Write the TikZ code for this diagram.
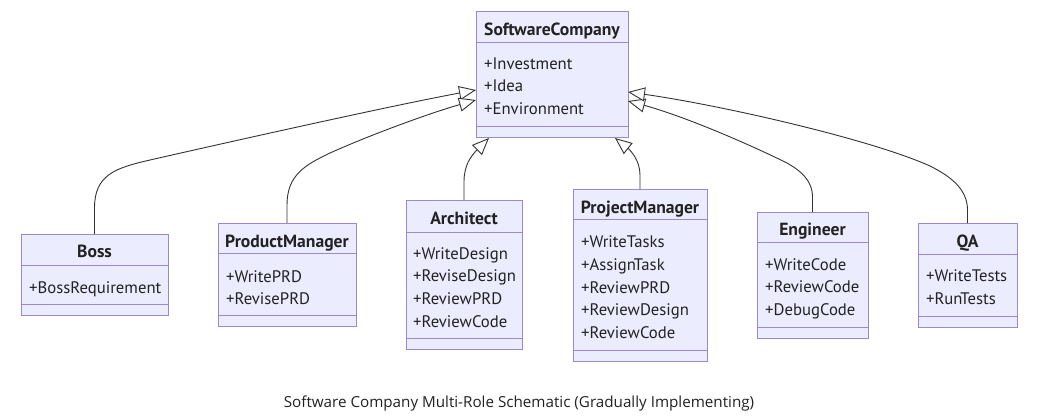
\documentclass[tikz,border=0pt]{standalone}
\usepackage{fontspec}
\setmainfont{PT Sans}
\newfontfamily\capfont{Open Sans}
\usetikzlibrary{arrows.meta}
\definecolor{boxfill}{HTML}{ECECFF}
\definecolor{boxline}{HTML}{9C87D0}
\definecolor{linkcol}{HTML}{333333}
\definecolor{txt}{HTML}{222222}
\begin{document}
\begin{tikzpicture}[x=1pt,y=-1pt,
  cls/.style={draw=boxline,fill=boxfill,line width=1pt,inner sep=0pt,outer sep=0pt,anchor=north west},
  sepline/.style={draw=boxline,line width=1pt},
  ttl/.style={font=\fontsize{17.6}{20}\selectfont\bfseries,text=txt,inner sep=0pt,text height=12pt,text depth=3pt,yshift=-1.5pt},
  attr/.style={font=\fontsize{16.7}{19}\selectfont,text=txt,inner sep=0pt,anchor=west,text height=12pt,text depth=3pt,yshift=-1.5pt},
  inherit/.style={draw=linkcol,line width=0.9pt,-{Triangle[length=17pt,width=14pt,fill=white]}},
]
\useasboundingbox (0,0) rectangle (1044,417);
\fill[white] (0,0) rectangle (1044,417);

% SoftwareCompany
\node[cls,minimum width=152pt,minimum height=126pt] (sc) at (476,12) {};
\draw[sepline] (476,43) -- (628,43);
\draw[sepline] (476,127) -- (628,127);
\node[ttl] (sct) at (552,30) {SoftwareCompany};
\node[attr] (sca1) at (484,64) {+Investment};
\node[attr] (sca2) at (484,86) {+Idea};
\node[attr] (sca3) at (484,109) {+Environment};

% Boss
\node[cls,minimum width=147pt,minimum height=81pt] (boss) at (21,234) {};
\draw[sepline] (21,265) -- (168,265);
\draw[sepline] (21,304) -- (168,304);
\node[ttl] (bosst) at (94.5,251) {Boss};
\node[attr] (bossa1) at (29,287) {+BossRequirement};

% ProductManager
\node[cls,minimum width=138pt,minimum height=103pt] (pm) at (218,223) {};
\draw[sepline] (218,253) -- (356,253);
\draw[sepline] (218,315) -- (356,315);
\node[ttl] (pmt) at (287,241) {ProductManager};
\node[attr] (pma1) at (226,276) {+WritePRD};
\node[attr] (pma2) at (226,298) {+RevisePRD};

% Architect
\node[cls,minimum width=116pt,minimum height=149pt] (arch) at (406,200) {};
\draw[sepline] (406,232) -- (522,232);
\draw[sepline] (406,338) -- (522,338);
\node[ttl] (archt) at (464,218) {Architect};
\node[attr] (archa1) at (413,253) {+WriteDesign};
\node[attr] (archa2) at (413,275) {+ReviseDesign};
\node[attr] (archa3) at (413,298) {+ReviewPRD};
\node[attr] (archa4) at (413,321) {+ReviewCode};

% ProjectManager
\node[cls,minimum width=134pt,minimum height=172pt] (pjm) at (573,189) {};
\draw[sepline] (573,219) -- (707,219);
\draw[sepline] (573,350) -- (707,350);
\node[ttl] (pjmt) at (640,207) {ProjectManager};
\node[attr] (pjma1) at (581,241) {+WriteTasks};
\node[attr] (pjma2) at (581,264) {+AssignTask};
\node[attr] (pjma3) at (581,287) {+ReviewPRD};
\node[attr] (pjma4) at (581,309) {+ReviewDesign};
\node[attr] (pjma5) at (581,332) {+ReviewCode};

% Engineer
\node[cls,minimum width=111pt,minimum height=126pt] (eng) at (757,212) {};
\draw[sepline] (757,242) -- (868,242);
\draw[sepline] (757,327) -- (868,327);
\node[ttl] (engt) at (812.5,229) {Engineer};
\node[attr] (enga1) at (765,264) {+WriteCode};
\node[attr] (enga2) at (765,286) {+ReviewCode};
\node[attr] (enga3) at (765,309) {+DebugCode};

% QA
\node[cls,minimum width=99pt,minimum height=104pt] (qa) at (918,223) {};
\draw[sepline] (918,254) -- (1017,254);
\draw[sepline] (918,316) -- (1017,316);
\node[ttl] (qat) at (967.5,241) {QA};
\node[attr] (qaa1) at (926,275) {+WriteTests};
\node[attr] (qaa2) at (926,298) {+RunTests};

% arrow targets on SoftwareCompany
\coordinate (tboss) at (476,90);
\coordinate (tpm) at (476,100);
\coordinate (tarch) at (489,138);
\coordinate (tpjm) at (615,138);
\coordinate (teng) at (628,101);
\coordinate (tqa) at (628,92);

% inheritance connectors
\draw[inherit] (boss.north) -- (94.5,208) .. controls (94.5,175) and (115,168) .. (150,160) .. controls (260,135) and (400,104) .. (tboss);
\draw[inherit] (pm.north) -- (287,205) .. controls (287,175) and (305,165) .. (330,153) .. controls (370,135) and (430,113) .. (tpm);
\draw[inherit] (arch.north) -- (464,182) .. controls (464,165) and (471,156) .. (tarch);
\draw[inherit] (pjm.north) -- (640,175) .. controls (640,160) and (630,150) .. (tpjm);
\draw[inherit] (eng.north) -- (812.5,197) .. controls (812.5,180) and (800,170) .. (785,162) .. controls (740,140) and (680,115) .. (teng);
\draw[inherit] (qa.north) -- (967.5,210) .. controls (967.5,190) and (952,177) .. (930,166) .. controls (870,139) and (720,105) .. (tqa);

% caption
\node[font=\capfont\fontsize{15.2}{18}\selectfont,text=txt,inner sep=0pt] (caption) at (519,404) {Software Company Multi-Role Schematic (Gradually Implementing)};
\end{tikzpicture}
\end{document}
